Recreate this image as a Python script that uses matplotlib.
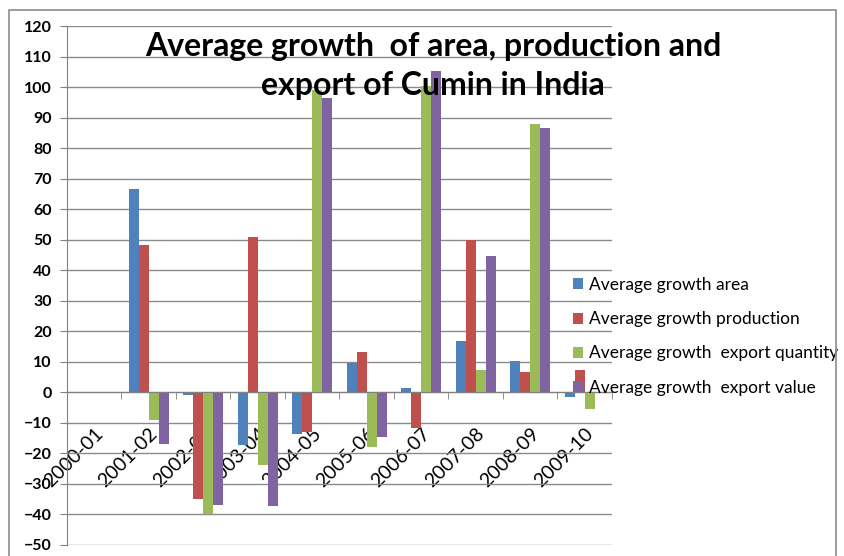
import matplotlib
matplotlib.use("Agg")
import matplotlib.pyplot as plt
import matplotlib.transforms as mtransforms
import numpy as np
from matplotlib.patches import Rectangle

plt.rcParams['font.family'] = ['Lato', 'DejaVu Sans']

years = ['2000-01', '2001-02', '2002-03', '2003-04', '2004-05',
         '2005-06', '2006-07', '2007-08', '2008-09', '2009-10']
area = [0, 66.6, -1.0, -17.4, -13.8, 9.5, 1.5, 16.8, 10.4, -1.6]
production = [0, 48.2, -35.0, 50.8, -12.9, 13.3, -11.8, 49.9, 6.6, 7.3]
export_qty = [0, -9.0, -40.0, -23.8, 99.0, -17.8, 100.4, 7.3, 87.8, -5.5]
export_val = [0, -16.8, -37.0, -37.1, 96.3, -14.7, 105.4, 44.8, 86.7, 0]

series = [area, production, export_qty, export_val]
names = ['Average growth area', 'Average growth production',
         'Average growth  export quantity', 'Average growth  export value']
colors = ['#4F81BD', '#C0504D', '#9BBB59', '#8064A2']

W, H = 845, 556
fig = plt.figure(figsize=(W / 100, H / 100), dpi=100)
ax = fig.add_axes([67 / W, 1 - 545 / H, (612 - 67) / W, (545 - 26) / H])

# outer chart border
fig.patches.append(Rectangle((9 / W, -0.05), (836 - 9) / W, 1.05 - 10 / H,
                             transform=fig.transFigure, fill=False,
                             edgecolor='#8c8c8c', linewidth=1.2))

x = np.arange(len(years))
bw = 1 / 5.5
for k, vals in enumerate(series):
    ax.bar(x + (k - 1.5) * bw, vals, bw, color=colors[k], label=names[k], zorder=2)

ax.set_xlim(-0.5, len(years) - 0.5)
ax.set_ylim(-50, 120)
ax.set_yticks(np.arange(-50, 121, 10))
ax.yaxis.grid(True, color='#8a8a8a', linewidth=1.0, zorder=0)
ax.set_axisbelow(True)

for s in ['top', 'right']:
    ax.spines[s].set_visible(False)
ax.spines['left'].set_color('#808080')
ax.spines['bottom'].set_position(('data', 0))
ax.spines['bottom'].set_color('#808080')

ax.tick_params(axis='y', direction='out', length=5, color='#808080',
               labelsize=11.5, pad=6)
for lab in ax.get_yticklabels():
    lab.set_fontweight('bold')

ax.set_xticks(x)
ax.set_xticks(np.arange(-0.5, len(years), 1), minor=True)
ax.tick_params(axis='x', which='major', length=0, pad=28)
ax.tick_params(axis='x', which='minor', length=5, color='#808080', direction='out')
ax.set_xticklabels(years, rotation=45, ha='right', va='center',
                   rotation_mode='anchor', fontsize=14)
# nudge the rotated labels a little to the right, like the original
shift = mtransforms.ScaledTranslation(6 / 100, 0, fig.dpi_scale_trans)
for lab in ax.get_xticklabels():
    lab.set_transform(lab.get_transform() + shift)

fig.text(433 / W, 1 - 66 / H, 'Average growth  of area, production and\nexport of Cumin in India',
         ha='center', va='center', fontsize=23, fontweight='bold',
         linespacing=1.42, multialignment='center')

ax.legend(loc='upper left', bbox_to_anchor=(573 / W, 1 - 277 / H),
          bbox_transform=fig.transFigure, frameon=False, fontsize=12.5,
          handlelength=0.6, handleheight=0.6, handletextpad=0.3,
          labelspacing=1.05, borderpad=0, borderaxespad=0)

fig.savefig('out.png', dpi=100)
